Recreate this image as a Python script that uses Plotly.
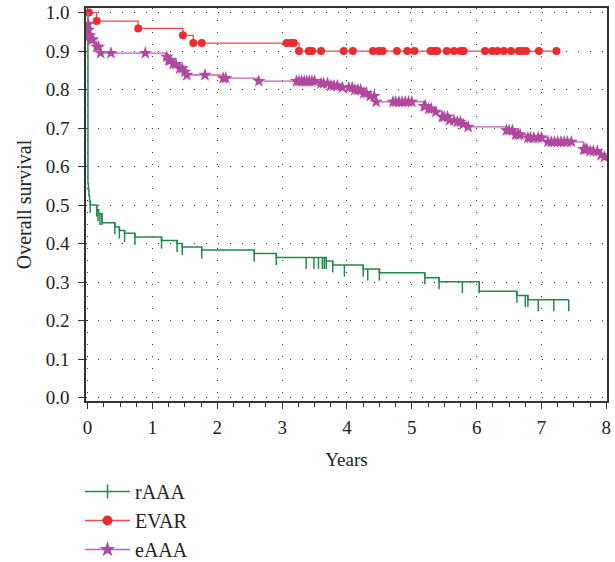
import plotly.graph_objects as go

# ---------------- data ----------------
# rAAA (green): event times / survival after event, censor times
raaa_t = [0.005, 0.012, 0.02, 0.03, 0.045, 0.14, 0.17, 0.22, 0.42, 0.49, 0.57, 0.73,
          1.14, 1.38, 1.46, 1.76, 2.57, 2.91, 3.68, 3.78, 4.25, 4.50, 5.20, 5.42,
          6.04, 6.62, 6.79]
raaa_s = [0.556, 0.540, 0.525, 0.510, 0.500, 0.488, 0.478, 0.454, 0.443, 0.434, 0.427, 0.417,
          0.408, 0.400, 0.391, 0.383, 0.374, 0.364, 0.355, 0.344, 0.334, 0.324, 0.311, 0.301,
          0.276, 0.265, 0.254]
raaa_cens = [0.04, 0.14, 0.16, 0.19, 0.22, 0.42, 0.49, 0.57, 0.73, 1.14, 1.38, 1.46, 1.76,
             2.57, 2.91, 3.37, 3.49, 3.56, 3.62, 3.65, 3.68, 3.78, 3.96, 4.25, 4.32, 4.50,
             5.20, 5.42, 5.78, 6.04, 6.62, 6.75, 6.79, 6.95, 7.19, 7.42]
raaa_end = 7.42

# EVAR (red)
evar_t = [0.14, 0.78, 1.47, 1.63, 3.26]
evar_s = [0.978, 0.959, 0.941, 0.921, 0.900]
evar_cens = [0.02, 0.14, 0.78, 1.47, 1.63, 1.76, 3.07, 3.13, 3.18, 3.26, 3.41, 3.46, 3.60,
             3.95, 4.09, 4.40, 4.49, 4.55, 4.77, 4.93, 5.04, 5.29, 5.34, 5.39, 5.54, 5.65,
             5.75, 5.80, 6.13, 6.24, 6.32, 6.42, 6.53, 6.65, 6.70, 6.76, 6.96, 7.23]
evar_end = 7.23

# eAAA (purple)
eaaa_t = [0.005, 0.01, 0.015, 0.02, 0.04, 0.10, 0.14, 0.19, 1.20, 1.25, 1.30, 1.42, 1.49,
          1.52, 2.05, 2.62, 3.60, 3.75, 3.93, 4.12, 4.22, 4.35, 4.45, 5.19, 5.25, 5.35,
          5.47, 5.58, 5.66, 5.79, 5.87, 6.46, 6.60, 6.79, 7.10, 7.65, 7.75, 7.90, 7.97]
eaaa_s = [0.985, 0.970, 0.955, 0.940, 0.930, 0.920, 0.911, 0.895, 0.885, 0.876, 0.866, 0.855,
          0.846, 0.838, 0.830, 0.822, 0.816, 0.810, 0.805, 0.799, 0.791, 0.783, 0.768, 0.757,
          0.750, 0.742, 0.729, 0.720, 0.716, 0.710, 0.703, 0.694, 0.683, 0.675, 0.664, 0.645,
          0.640, 0.630, 0.625]
eaaa_cens = [0.01, 0.015, 0.02, 0.03, 0.05, 0.08, 0.14, 0.17, 0.20, 0.36, 0.89, 1.22, 1.25,
             1.28, 1.32, 1.36, 1.42, 1.46, 1.50, 1.53, 1.81, 2.09, 2.13, 2.64, 3.22, 3.26,
             3.30, 3.34, 3.38, 3.42, 3.46, 3.50, 3.60, 3.64, 3.70, 3.75, 3.80, 3.85, 3.93,
             4.03, 4.08, 4.12, 4.17, 4.21, 4.26, 4.30, 4.36, 4.42, 4.45, 4.71, 4.75, 4.80,
             4.85, 4.90, 4.95, 5.00, 5.19, 5.21, 5.26, 5.30, 5.37, 5.47, 5.50, 5.55, 5.58,
             5.65, 5.70, 5.75, 5.79, 5.87, 6.46, 6.50, 6.55, 6.60, 6.64, 6.67, 6.79, 6.83,
             6.88, 6.95, 7.00, 7.10, 7.15, 7.20, 7.25, 7.30, 7.35, 7.40, 7.46, 7.65, 7.67,
             7.70, 7.75, 7.80, 7.86, 7.92, 7.97]
eaaa_end = 8.0

series_names = ["rAAA", "EVAR", "eAAA"]
x_ticks = [0, 1, 2, 3, 4, 5, 6, 7, 8]
y_ticks = [0.0, 0.1, 0.2, 0.3, 0.4, 0.5, 0.6, 0.7, 0.8, 0.9, 1.0]


def surv(t, times, vals, left=False):
    s = 1.0
    for ti, vi in zip(times, vals):
        if ti < t or (ti == t and not left):
            s = vi
    return s


def step_xy(times, vals, end):
    return [0.0] + list(times) + [end], [1.0] + list(vals) + [vals[-1]]


GREEN = "#1f8a4a"
RED = "#ec2a2f"
RED_LINE = "#f0474b"
PURPLE = "#b0489f"
PURPLE_LINE = "#c064b2"

fig = go.Figure()

# rAAA
x, y = step_xy(raaa_t, raaa_s, raaa_end)
fig.add_trace(go.Scatter(x=x, y=y, mode="lines", line=dict(color=GREEN, width=1.5, shape="hv"),
                         showlegend=False, hoverinfo="skip"))
tx, ty = [], []
for c in raaa_cens:
    s = surv(c, raaa_t, raaa_s, left=True)
    tx += [c, c, None]
    ty += [s, s - 0.03, None]
fig.add_trace(go.Scatter(x=tx, y=ty, mode="lines", line=dict(color=GREEN, width=1.5),
                         showlegend=False, hoverinfo="skip"))

# EVAR
x, y = step_xy(evar_t, evar_s, evar_end)
fig.add_trace(go.Scatter(x=x, y=y, mode="lines", line=dict(color=RED_LINE, width=1.3, shape="hv"),
                         showlegend=False, hoverinfo="skip"))
fig.add_trace(go.Scatter(x=evar_cens, y=[surv(c, evar_t, evar_s) for c in evar_cens],
                         mode="markers", marker=dict(color=RED, size=8, symbol="circle"),
                         showlegend=False, hoverinfo="skip"))

# eAAA
x, y = step_xy(eaaa_t, eaaa_s, eaaa_end)
fig.add_trace(go.Scatter(x=x, y=y, mode="lines", line=dict(color=PURPLE_LINE, width=1.3, shape="hv"),
                         showlegend=False, hoverinfo="skip"))
fig.add_trace(go.Scatter(x=eaaa_cens, y=[surv(c, eaaa_t, eaaa_s) for c in eaaa_cens],
                         mode="markers", marker=dict(color=PURPLE, size=10, symbol="star"),
                         showlegend=False, hoverinfo="skip"))

# legend entries
fig.add_trace(go.Scatter(x=[None], y=[None], mode="lines+markers", name=series_names[0],
                         line=dict(color=GREEN, width=1.5),
                         marker=dict(symbol="line-ns-open", size=10, color=GREEN,
                                     line=dict(color=GREEN, width=1.5))))
fig.add_trace(go.Scatter(x=[None], y=[None], mode="lines+markers", name=series_names[1],
                         line=dict(color=RED_LINE, width=1.3),
                         marker=dict(symbol="circle", size=10, color=RED)))
fig.add_trace(go.Scatter(x=[None], y=[None], mode="lines+markers", name=series_names[2],
                         line=dict(color=PURPLE_LINE, width=1.3),
                         marker=dict(symbol="star", size=12, color=PURPLE)))

FONT = "Liberation Serif"
axis_common = dict(showline=True, linecolor="#333", linewidth=1.5, mirror=True,
                   showgrid=True, gridcolor="#333", gridwidth=1, griddash="1px,11px",
                   zeroline=False, ticks="outside", tickcolor="#333", tickwidth=1.3,
                   automargin=False, ticklabeloverflow="allow",
                   tickfont=dict(family=FONT, size=19, color="#222"))

fig.update_xaxes(range=[-0.025, 8.01], tickvals=x_ticks, ticklen=6, ticklabelstandoff=2,
                 minor=dict(dtick=0.25, ticks="outside", ticklen=4, tickcolor="#333", showgrid=False),
                 title=dict(text="Years", font=dict(family=FONT, size=19, color="#222"), standoff=16),
                 **axis_common)
fig.update_yaxes(range=[-0.009, 1.012], tickvals=y_ticks, tickformat=".1f", ticklen=6,
                 ticklabelstandoff=5,
                 title=dict(text="Overall survival", font=dict(family=FONT, size=20, color="#222"),
                            standoff=9),
                 **axis_common)

fig.update_layout(width=615, height=562,
                  margin=dict(l=86, r=8, t=8, b=161, autoexpand=False),
                  plot_bgcolor="white", paper_bgcolor="white",
                  legend=dict(x=-0.0115, y=-0.1807, xanchor="left", yanchor="top",
                              font=dict(family=FONT, size=20, color="#222"),
                              bgcolor="rgba(0,0,0,0)", itemwidth=45),
                  showlegend=True)

# remove the browser's default page margin so the figure fills the window exactly
fig.write_html("out.html", config={"displayModeBar": False},
               post_script="document.body.style.margin='0px';")
